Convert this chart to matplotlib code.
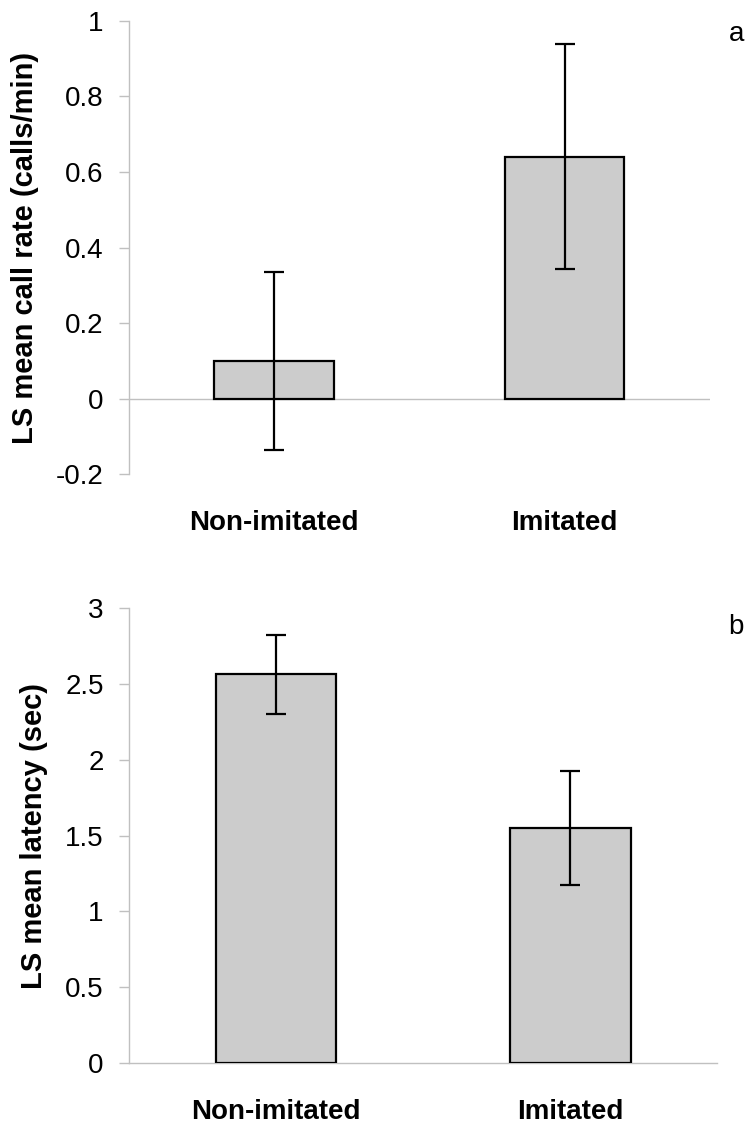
import matplotlib
matplotlib.use("Agg")
import matplotlib.pyplot as plt
from matplotlib import font_manager
import numpy as np

# data
categories = ["Non-imitated", "Imitated"]
call_rate = [0.10, 0.64]
call_rate_err = [0.236, 0.297]
latency = [2.565, 1.55]
latency_err = [0.26, 0.378]

names = {f.name for f in font_manager.fontManager.ttflist}
narrow = "Liberation Sans Narrow" if "Liberation Sans Narrow" in names else "Liberation Sans"

bar_color = "#cccccc"
axis_grey = "#c0c0c0"

fig = plt.figure(figsize=(7.49, 11.24), dpi=100)
ax_a = fig.add_axes([0.1718, 0.578, 0.776, 0.4036])
ax_b = fig.add_axes([0.1718, 0.0545, 0.786, 0.4043])


def draw_panel(ax, values, errors, ylim, yticks, ylabel, labelpad):
    x = np.arange(len(categories))
    ax.bar(x, values, width=0.41, color=bar_color, edgecolor="black",
           linewidth=1.6, zorder=3)
    ax.errorbar(x, values, yerr=errors, fmt="none", ecolor="black",
                elinewidth=1.6, capsize=7, capthick=1.6, zorder=4)
    ax.set_xlim(-0.5, 1.5)
    ax.set_ylim(*ylim)
    ax.set_yticks(yticks)
    ax.set_yticklabels([("%g" % t) for t in yticks], family=narrow, fontsize=20)
    ax.set_xticks(x)
    ax.set_xticklabels(categories, family=narrow, fontsize=20, fontweight="bold")
    ax.tick_params(axis="x", length=0, pad=26)
    ax.tick_params(axis="y", length=7, width=1, color=axis_grey, pad=11)
    for s in ["top", "right"]:
        ax.spines[s].set_visible(False)
    ax.spines["left"].set_color(axis_grey)
    ax.spines["left"].set_linewidth(1)
    ax.set_ylabel(ylabel, family="Liberation Sans", fontsize=21,
                  fontweight="bold", labelpad=labelpad)


draw_panel(ax_a, call_rate, call_rate_err, (-0.2, 1.0),
           [-0.2, 0, 0.2, 0.4, 0.6, 0.8, 1.0],
           "LS mean call rate (calls/min)", 12)
ax_a.spines["bottom"].set_visible(False)
ax_a.axhline(0, color=axis_grey, linewidth=1, zorder=2)

draw_panel(ax_b, latency, latency_err, (0, 3.0),
           [0, 0.5, 1, 1.5, 2, 2.5, 3],
           "LS mean latency (sec)", 12)
ax_b.spines["bottom"].set_color(axis_grey)
ax_b.spines["bottom"].set_linewidth(1)

fig.text(737 / 749, 1 - 34 / 1124, "a", family="Liberation Sans",
         fontsize=20, ha="center", va="center")
fig.text(736 / 749, 1 - 627 / 1124, "b", family="Liberation Sans",
         fontsize=20, ha="center", va="center")

fig.savefig("out.png", dpi=100)
plt.close(fig)
